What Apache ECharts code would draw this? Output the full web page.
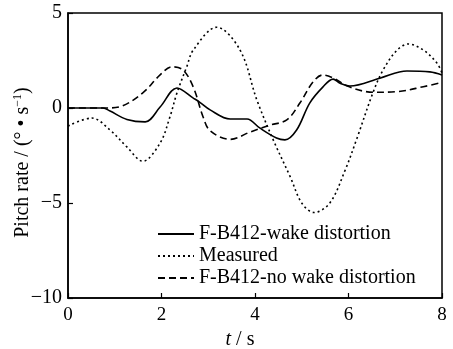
<!DOCTYPE html>
<html>
<head>
<meta charset="utf-8">
<script src="https://cdn.jsdelivr.net/npm/echarts@6/dist/echarts.min.js"></script>
<style>
  html, body { margin: 0; padding: 0; background: #fff; }
  #chart { width: 453px; height: 349px; }
</style>
</head>
<body>
<div id="chart"></div>
<script>
const seriesNames = ['F-B412-wake distortion', 'Measured', 'F-B412-no wake distortion']
const xTicks = [0, 2, 4, 6, 8]
const yTicks = [-10, -5, 0, 5]

// [t (s), pitch rate (deg/s)]
const wakeData = [
    [0, 0], [0.4, 0], [0.75, 0], [0.9, -0.16], [1.26, -0.6], [1.65, -0.73],
    [1.97, 0.05], [2.33, 1.05], [2.68, 0.52], [2.82, 0.3], [3.04, -0.1],
    [3.47, -0.58], [3.83, -0.58], [4.1, -1.05], [4.46, -1.58], [4.64, -1.68],
    [4.89, -1.16], [5.17, 0.26], [5.45, 1.1], [5.67, 1.52], [5.82, 1.3],
    [6.03, 1.16], [6.67, 1.57], [7.25, 1.95], [7.74, 1.9], [8, 1.74]
]
const measuredData = [
    [0, -0.95], [0.51, -0.53], [0.9, -1.16], [1.26, -2.05], [1.6, -2.8],
    [1.97, -1.84], [2.18, -0.47], [2.33, 0.79], [2.54, 2.17], [2.68, 3.05],
    [3.18, 4.25], [3.68, 3.05], [4.04, 0.42], [4.39, -1.68], [4.75, -3.6],
    [5.0, -5.0], [5.26, -5.5], [5.6, -5.0], [5.93, -3.26], [6.18, -1.6],
    [6.53, 0.85], [6.74, 2.0], [7.04, 3.05], [7.28, 3.37], [7.6, 3.05],
    [7.89, 2.37], [8, 1.84]
]
const noWakeData = [
    [0, 0], [0.8, 0], [1.15, 0.1], [1.6, 0.8], [1.97, 1.74], [2.22, 2.17],
    [2.46, 2.0], [2.68, 1.1], [2.89, -0.47], [3.04, -1.2], [3.47, -1.65],
    [3.9, -1.26], [4.32, -0.9], [4.68, -0.63], [4.96, 0.26], [5.24, 1.37],
    [5.45, 1.74], [5.67, 1.58], [6.03, 1.1], [6.53, 0.83], [7.04, 0.86],
    [7.6, 1.12], [8, 1.35]
]

const font = 'Liberation Serif'
const chart = echarts.init(document.getElementById('chart'), null, { renderer: 'canvas' })

const option = {
    backgroundColor: '#fff',
    animation: false,
    grid: {
        left: 68, top: 13, right: 11, bottom: 51,
        containLabel: false, outerBoundsMode: 'none',
        show: true, borderColor: '#000', borderWidth: 1.5
    },
    legend: {
        orient: 'vertical',
        left: 152, top: 219,
        itemWidth: 36, itemHeight: 14, itemGap: 2,
        itemStyle: { opacity: 0 },
        textStyle: { fontFamily: font, fontSize: 20, color: '#000' },
        data: seriesNames
    },
    xAxis: {
        type: 'value', min: 0, max: 8, interval: 2,
        name: '{i|t} / s',
        nameLocation: 'middle', nameGap: 31,
        nameTextStyle: {
            fontFamily: font, fontSize: 20, color: '#000', padding: [0, 30, 0, 0],
            rich: { i: { fontFamily: font, fontSize: 20, fontStyle: 'italic' } }
        },
        axisLine: { onZero: false, lineStyle: { color: '#000', width: 1.5 } },
        axisTick: { inside: true, length: 5, lineStyle: { color: '#000', width: 1.2 } },
        axisLabel: { fontFamily: font, fontSize: 19, color: '#000', margin: 8 },
        splitLine: { show: false }
    },
    yAxis: {
        type: 'value', min: -10, max: 5, interval: 5,
        name: 'Pitch rate / (° • s{sup|−1})',
        nameLocation: 'middle', nameGap: 34, nameMoveOverlap: false,
        nameTextStyle: {
            fontFamily: font, fontSize: 20, color: '#000', padding: [0, 14, 0, 0],
            rich: { sup: { fontFamily: font, fontSize: 12, padding: [0, 0, 10, 0] } }
        },
        axisLine: { onZero: false, lineStyle: { color: '#000', width: 1.5 } },
        axisTick: { inside: true, length: 5, lineStyle: { color: '#000', width: 1.2 } },
        axisLabel: {
            fontFamily: font, fontSize: 20, color: '#000', margin: 6,
            formatter: v => String(v).replace('-', '−')
        },
        splitLine: { show: false }
    },
    series: [
        {
            name: seriesNames[0], type: 'line', data: wakeData, smooth: 0.35,
            symbol: 'none', lineStyle: { color: '#000', width: 1.6, type: 'solid' },
            itemStyle: { color: '#000' }
        },
        {
            name: seriesNames[1], type: 'line', data: measuredData, smooth: 0.35,
            symbol: 'none', lineStyle: { color: '#000', width: 1.6, type: [2, 3] },
            itemStyle: { color: '#000' }
        },
        {
            name: seriesNames[2], type: 'line', data: noWakeData, smooth: 0.35,
            symbol: 'none', lineStyle: { color: '#000', width: 1.6, type: [7, 4] },
            itemStyle: { color: '#000' }
        }
    ]
}

chart.setOption(option)
</script>
</body>
</html>
